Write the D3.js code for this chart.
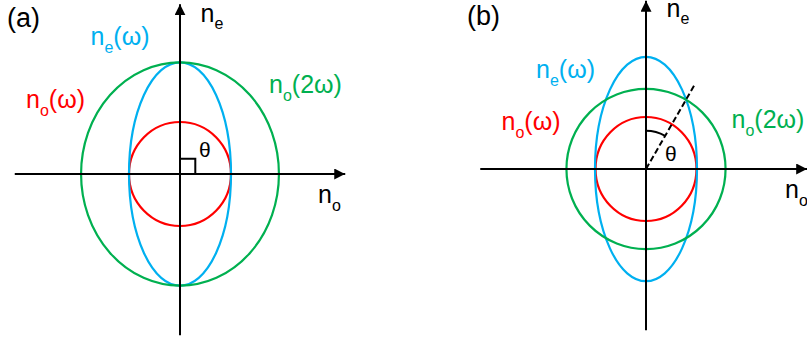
<!DOCTYPE html>
<html>
<head>
<meta charset="utf-8">
<script src="https://cdn.jsdelivr.net/npm/d3@7/dist/d3.min.js"></script>
<style>
  body { margin:0; background:#fff; }
  svg text { font-family:"Liberation Sans", Arial, sans-serif; }
</style>
</head>
<body>
<div id="chart"></div>
<script>
// curves: n_o(w), n_e(w), n_o(2w) -- semi-axes in index units (1 = red circle)
var curveNames = ['o', 'e', 'o'];
var curveArgs = ['(\u03c9)', '(\u03c9)', '(2\u03c9)'];
var rxA = [1.0, 1.0, 1.94];
var ryA = [1.02, 2.19, 2.19];
var rxB = [0.99, 1.0, 1.56];
var ryB = [1.02, 2.2, 1.57];
var thetaB = 30;       // degrees from n_e axis, panel (b)
var dashLenB = 1.93;   // length of dashed direction line
var colors = ['#ff0000', '#00b0f0', '#00b050'];

var W = 807, H = 340, unit = 51;

var svg = d3.select('#chart').append('svg')
  .attr('width', W)
  .attr('height', H);

var defs = svg.append('defs');
defs.append('marker')
  .attr('id', 'arrow')
  .attr('viewBox', '0 0 10 10')
  .attr('refX', 10).attr('refY', 5)
  .attr('markerUnits', 'userSpaceOnUse')
  .attr('markerWidth', 11).attr('markerHeight', 11)
  .attr('orient', 'auto')
  .append('path').attr('d', 'M0,0 L10,5 L0,10 Z').attr('fill', '#000');

function label(g, x, y, main, sub, rest, color, size) {
  var t = g.append('text').attr('x', x).attr('y', y)
    .attr('fill', color).style('font-size', size + 'px');
  t.append('tspan').text(main);
  if (sub) {
    t.append('tspan').attr('dy', 7.5).style('font-size', (size * 0.64) + 'px').text(sub);
    if (rest) t.append('tspan').attr('dy', -7.5).text(rest);
  }
  return t;
}

function panel(opt) {
  var x = d3.scaleLinear().domain([-1, 1]).range([opt.cx - unit, opt.cx + unit]);
  var y = d3.scaleLinear().domain([-1, 1]).range([opt.cy + unit, opt.cy - unit]);
  var g = svg.append('g');

  // curves
  g.selectAll('ellipse')
    .data(d3.range(opt.rx.length))
    .enter().append('ellipse')
    .attr('cx', x(0)).attr('cy', y(0))
    .attr('rx', function(i) { return x(opt.rx[i]) - x(0); })
    .attr('ry', function(i) { return y(0) - y(opt.ry[i]); })
    .attr('fill', 'none')
    .attr('stroke', function(i) { return colors[i]; })
    .attr('stroke-width', 2.2);

  // axes
  g.append('line')
    .attr('x1', x(opt.xext[0])).attr('y1', y(0))
    .attr('x2', x(opt.xext[1])).attr('y2', y(0))
    .attr('stroke', '#000').attr('stroke-width', 2)
    .attr('marker-end', 'url(#arrow)');
  g.append('line')
    .attr('x1', x(0)).attr('y1', y(opt.yext[0]))
    .attr('x2', x(0)).attr('y2', y(opt.yext[1]))
    .attr('stroke', '#000').attr('stroke-width', 2)
    .attr('marker-end', 'url(#arrow)');
  return { g: g, x: x, y: y };
}

// ---- panel (a)
var a = panel({ cx: 180, cy: 174, rx: rxA, ry: ryA, xext: [-3.24, 3.24], yext: [-3.16, 3.33] });
a.g.append('path')
  .attr('d', 'M' + a.x(0) + ',' + a.y(0.3) + 'H' + a.x(0.3) + 'V' + a.y(0))
  .attr('fill', 'none').attr('stroke', '#000').attr('stroke-width', 2);
label(a.g, 7, 27, '(a)', null, null, '#000', 27);
label(a.g, 200.5, 21.7, 'n', 'e', null, '#000', 25);
label(a.g, 318, 203, 'n', 'o', null, '#000', 25);
label(a.g, 199, 157, '\u03b8', null, null, '#000', 21);
label(a.g, 26, 108, 'n', curveNames[0], curveArgs[0], colors[0], 25);
label(a.g, 90.5, 45, 'n', curveNames[1], curveArgs[1], colors[1], 25);
label(a.g, 269, 93, 'n', curveNames[2], curveArgs[2], colors[2], 25);

// ---- panel (b)
var b = panel({ cx: 646, cy: 169, rx: rxB, ry: ryB, xext: [-3.25, 3.16], yext: [-3.16, 3.3] });
var th = thetaB * Math.PI / 180;
b.g.append('line')
  .attr('x1', b.x(0)).attr('y1', b.y(0))
  .attr('x2', b.x(dashLenB * Math.sin(th))).attr('y2', b.y(dashLenB * Math.cos(th)))
  .attr('stroke', '#000').attr('stroke-width', 2)
  .attr('stroke-dasharray', '6,3');
var arcR = b.x(0.75) - b.x(0);
b.g.append('path')
  .attr('d', d3.arc()({ innerRadius: arcR, outerRadius: arcR, startAngle: 0, endAngle: th }))
  .attr('transform', 'translate(' + b.x(0) + ',' + b.y(0) + ')')
  .attr('fill', 'none').attr('stroke', '#000').attr('stroke-width', 2);
label(b.g, 467, 25, '(b)', null, null, '#000', 27);
label(b.g, 666.5, 16.7, 'n', 'e', null, '#000', 25);
label(b.g, 785, 198, 'n', 'o', null, '#000', 25);
label(b.g, 665, 161, '\u03b8', null, null, '#000', 21);
label(b.g, 501.5, 130, 'n', curveNames[0], curveArgs[0], colors[0], 25);
label(b.g, 536, 78, 'n', curveNames[1], curveArgs[1], colors[1], 25);
label(b.g, 731.5, 128, 'n', curveNames[2], curveArgs[2], colors[2], 25);
</script>
</body>
</html>
